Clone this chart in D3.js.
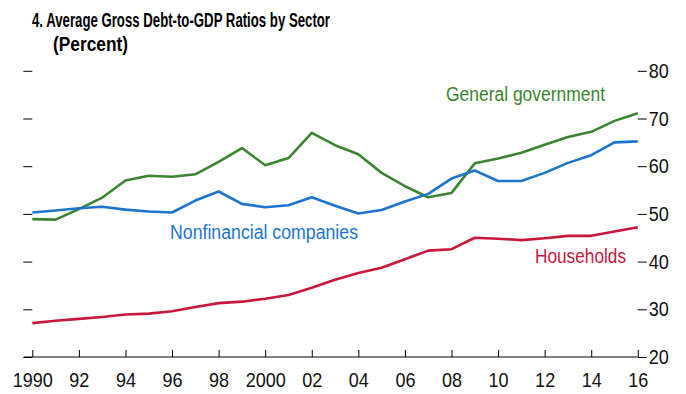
<!DOCTYPE html>
<html>
<head>
<meta charset="utf-8">
<script src="https://cdn.jsdelivr.net/npm/d3@7"></script>
<style>
  body { margin: 0; background: #fff; }
  svg text { font-family: "Liberation Sans", Arial, sans-serif; }
</style>
</head>
<body>
<div id="chart"></div>
<script>
// Data
const years = d3.range(1990, 2017);
const tickYears = d3.range(1990, 2017, 2);
const yTicks = [20, 30, 40, 50, 60, 70, 80];

const generalGovernment = [48.9, 48.8, 51.0, 53.4, 57.0, 58.0, 57.8, 58.3, 60.9, 63.8,
    60.2, 61.7, 67.0, 64.4, 62.5, 58.6, 55.8, 53.5, 54.4, 60.6,
    61.6, 62.8, 64.5, 66.1, 67.2, 69.5, 71.1];
const nonfinancialCompanies = [50.3, 50.7, 51.2, 51.5, 50.9, 50.5, 50.3, 52.8, 54.7, 52.1,
    51.4, 51.8, 53.5, 51.7, 50.1, 50.8, 52.6, 54.2, 57.4, 59.1,
    56.9, 56.9, 58.6, 60.7, 62.3, 65.0, 65.2];
const households = [27.1, 27.6, 28.0, 28.4, 28.9, 29.1, 29.6, 30.5, 31.3, 31.6,
    32.2, 33.0, 34.5, 36.2, 37.6, 38.7, 40.5, 42.3, 42.6, 45.0,
    44.8, 44.5, 44.9, 45.4, 45.4, 46.3, 47.2];

// label: x, baseline y, text width (the font in the original is condensed)
const series = [
    { name: 'General government', values: generalGovernment, color: '#3b8530', label: [446, 101, 159] },
    { name: 'Nonfinancial companies', values: nonfinancialCompanies, color: '#1b75d0', label: [170, 239, 188] },
    { name: 'Households', values: households, color: '#c8173a', label: [535, 263, 91] },
];

// Dimension
const width = 686, height = 394;
const squeeze = 0.88;

const svg = d3.select('#chart')
    .append('svg')
    .attr('width', width)
    .attr('height', height);

// Scales
const xScale = d3.scaleLinear()
    .domain([1990, 2016])
    .range([32.3, 637.8]);

const yScale = d3.scaleLinear()
    .domain([20, 80])
    .range([357, 70.8]);

// Title
svg.append('text')
    .attr('x', 32)
    .attr('y', 26.5)
    .attr('font-size', 19.5)
    .attr('font-weight', 'bold')
    .attr('textLength', 298)
    .attr('lengthAdjust', 'spacingAndGlyphs')
    .text('4. Average Gross Debt-to-GDP Ratios by Sector');
svg.append('text')
    .attr('x', 53)
    .attr('y', 50.5)
    .attr('font-size', 19.5)
    .attr('font-weight', 'bold')
    .attr('textLength', 75)
    .attr('lengthAdjust', 'spacingAndGlyphs')
    .text('(Percent)');

// Axis
const leftAxis = svg.append('g')
    .attr('transform', `translate(${xScale(1990)}, 0)`)
    .call(d3.axisLeft(yScale).tickValues(yTicks).tickSize(9).tickFormat(''));
leftAxis.select('.domain').remove();

const rightAxis = svg.append('g')
    .attr('transform', `translate(${xScale(2016)}, 0)`)
    .call(d3.axisRight(yScale).tickValues(yTicks).tickSize(9).tickPadding(2));
rightAxis.select('.domain').remove();
rightAxis.selectAll('text')
    .attr('font-size', 20.5)
    .attr('fill', '#111')
    .attr('transform', `translate(11, 0) scale(${squeeze}, 1) translate(-11, 0)`);

const bottomAxis = svg.append('g')
    .attr('transform', `translate(0, ${yScale(20)})`)
    .call(d3.axisBottom(xScale)
        .tickValues(tickYears)
        .tickSize(-7)
        .tickPadding(15)
        .tickFormat(d => (d === 1990 || d === 2000) ? String(d) : String(d % 100).padStart(2, '0')));
bottomAxis.select('.domain').remove();
bottomAxis.selectAll('text')
    .attr('font-size', 20.5)
    .attr('fill', '#111')
    .attr('transform', `scale(${squeeze}, 1)`);
bottomAxis.append('line')
    .attr('x1', xScale(1990) - 8.5)
    .attr('x2', xScale(2016))
    .attr('stroke', '#000');

svg.selectAll('.tick line').attr('stroke', '#000');

// Lines
const line = d3.line()
    .x((d, i) => xScale(years[i]))
    .y(d => yScale(d));

svg.append('g')
    .selectAll('path')
    .data(series)
    .join('path')
    .attr('d', d => line(d.values))
    .attr('fill', 'none')
    .attr('stroke', d => d.color)
    .attr('stroke-width', 2.6)
    .attr('stroke-linejoin', 'round');

// Labels
svg.append('g')
    .selectAll('text')
    .data(series)
    .join('text')
    .attr('x', d => d.label[0])
    .attr('y', d => d.label[1])
    .attr('font-size', 20)
    .attr('fill', d => d.color)
    .attr('textLength', d => d.label[2])
    .attr('lengthAdjust', 'spacingAndGlyphs')
    .text(d => d.name);
</script>
</body>
</html>
